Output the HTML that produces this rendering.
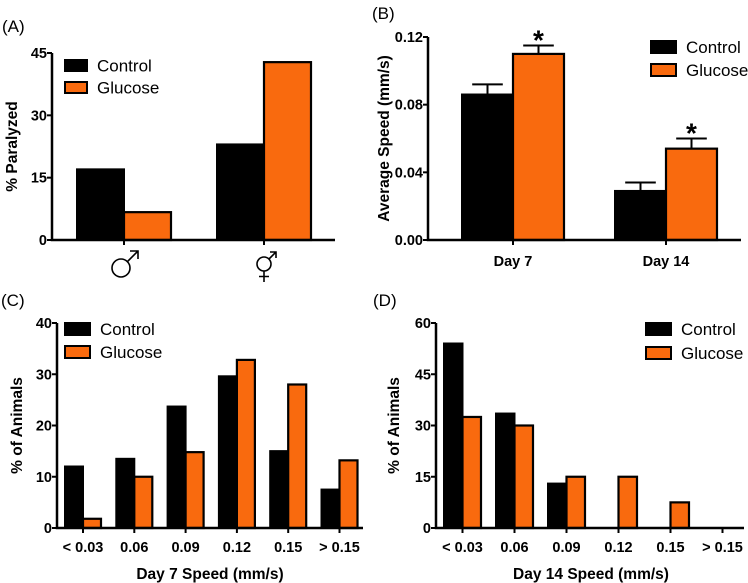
<!DOCTYPE html>
<html><head><meta charset="utf-8"><style>
html,body{margin:0;padding:0;background:#fff;}
svg{display:block;font-family:"Liberation Sans",Arial,sans-serif;}
.t{font-weight:bold;font-size:14.5px;}
.lg{font-size:17px;}
.ttl{font-weight:bold;font-size:15.5px;}
.pl{font-size:17px;}
</style></head><body>
<svg id="fig" width="748" height="583" viewBox="0 0 748 583"></svg>
<script>
const NS="http://www.w3.org/2000/svg";
const svg=document.getElementById('fig');
const ORANGE="#f96a0e";

// Panel A data
const aCategories=["male","hermaphrodite"];
const aControl=[17,23];
const aGlucose=[6.7,42.8];
const aTicks=[0,15,30,45];
// Panel B data
const bCategories=["Day 7","Day 14"];
const bControl=[0.086,0.029];
const bGlucose=[0.110,0.054];
const bControlErr=[0.006,0.005];
const bGlucoseErr=[0.005,0.006];
const bTicks=["0.00","0.04","0.08","0.12"];
// Panel C data
const cCategories=["< 0.03","0.06","0.09","0.12","0.15","> 0.15"];
const cControl=[12,13.5,23.7,29.6,15,7.5];
const cGlucose=[1.8,10,14.8,32.8,28,13.2];
const cTicks=[0,10,20,30,40];
// Panel D data
const dCategories=["< 0.03","0.06","0.09","0.12","0.15","> 0.15"];
const dControl=[54,33.5,13,0,0,0];
const dGlucose=[32.5,30,15,15,7.5,0];
const dTicks=[0,15,30,45,60];

function el(tag,attrs,parent){const e=document.createElementNS(NS,tag);for(const k in attrs)e.setAttribute(k,attrs[k]);(parent||svg).appendChild(e);return e;}
function txt(s,attrs,parent){const e=el('text',attrs,parent);e.textContent=s;return e;}

function symbol(kind,cx,g){
  const s=el('g',{fill:'none',stroke:'#000','stroke-width':1.6},g);
  
  
  if(kind==='male'){
    el('circle',{cx:cx-3,cy:268,r:9},s);
    el('path',{d:`M${cx+3.5},${261.5}L${cx+14},${251}M${cx+6},${251}H${cx+14}V${259}`},s);
  }else{
    el('circle',{cx:cx,cy:264,r:7},s);
    el('path',{d:`M${cx+5},${259}L${cx+12},${252}M${cx+6},${252}H${cx+12}V${258}M${cx},${271}V${282}M${cx-5},${276.5}H${cx+5}`},s);
  }
}

function panel(o){
  const g=el('g',{});
  
  
  const ymax=o.ymax;
  const Y=v=>o.y0-(v/ymax)*(o.y0-o.ytop);
  const lab=txt(o.label,{x:o.labX,y:o.labY,class:'pl'},g);
  
  
  o.cats.forEach((c,i)=>{
    const gx=o.gx0+i*o.gsp;
    const hc=o.y0-Y(o.ctrl[i]), hg=o.y0-Y(o.glu[i]);
    if(o.ctrl[i]>0){
      if(o.cerr){const ey=Y(o.ctrl[i]+o.cerr[i]);const cx=gx+o.bw/2;
        const e=el('path',{d:`M${cx},${Y(o.ctrl[i])}V${ey}M${cx-o.bw*0.3},${ey}H${cx+o.bw*0.3}`,stroke:'#000','stroke-width':2,fill:'none'},g);
        
        }
      const r=el('rect',{x:gx,y:Y(o.ctrl[i]),width:o.bw,height:hc,fill:'#000',stroke:'#000','stroke-width':2},g);
      
      
    }
    if(o.glu[i]>0){
      if(o.gerr){const ey=Y(o.glu[i]+o.gerr[i]);const cx=gx+o.bw*1.5;
        const e=el('path',{d:`M${cx},${Y(o.glu[i])}V${ey}M${cx-o.bw*0.3},${ey}H${cx+o.bw*0.3}`,stroke:'#000','stroke-width':2,fill:'none'},g);
        
        
        const s=txt('*',{x:cx,y:ey+4,'text-anchor':'middle','font-size':28,'font-weight':'bold'},g);
        
        }
      const r=el('rect',{x:gx+o.bw,y:Y(o.glu[i]),width:o.bw,height:hg,fill:ORANGE,stroke:'#000','stroke-width':2.2},g);
      
      
    }
    const tx=gx+o.bw;
    el('line',{x1:tx,y1:o.y0,x2:tx,y2:o.y0+5,stroke:'#000','stroke-width':2},g);
    if(o.symbols){ symbol(c,tx,g); }
    else{
      const t=txt(c,{x:tx,y:o.catY,'text-anchor':'middle',class:'t'},g);
      
      
    }
  });
  const ax=el('path',{d:`M${o.x0},${o.ytop}V${o.y0}H${o.xend}`,stroke:'#000','stroke-width':2.5,fill:'none'},g);
  
  
  o.ticks.forEach(tk=>{
    const v=parseFloat(tk);const y=Y(v);
    el('line',{x1:o.x0-5,y1:y,x2:o.x0,y2:y,stroke:'#000','stroke-width':2},g);
    const t=txt(String(tk),{x:o.x0-5,y:y+5,'text-anchor':'end',class:'t'},g);
    
    
  });
  const yt=txt(o.ytitle,{x:0,y:0,'text-anchor':'middle',class:'ttl',transform:`translate(${o.ytX},${(o.ytop+o.y0)/2}) rotate(-90)`},g);
  
  
  if(o.xtitle){const xt=txt(o.xtitle,{x:o.xtX,y:o.xtY,'text-anchor':'middle',class:'ttl'},g);
    
    }
  [['Control','#000'],['Glucose',ORANGE]].forEach((L,i)=>{
    const y=o.lgY+i*o.lgSp;
    const r=el('rect',{x:o.lgX,y:y,width:o.lgW,height:o.lgH,fill:L[1],stroke:'#000','stroke-width':2},g);
    
    
    const t=txt(L[0],{x:o.lgX+o.lgW+10,y:y+o.lgH/2+6,class:'lg'},g);
    
    
  });
}

panel({name:'panel-a',label:'(A)',labX:2,labY:32,x0:52,y0:240,ytop:53,xend:335,ymax:45,ticks:aTicks,
  cats:aCategories,ctrl:aControl,glu:aGlucose,gx0:77,gsp:140,bw:47,symbols:true,
  ytitle:'% Paralyzed',ytX:17,lgX:65,lgY:60,lgSp:22,lgW:22,lgH:11});
panel({name:'panel-b',label:'(B)',labX:372,labY:19,x0:428,y0:240,ytop:37,xend:741,ymax:0.12,ticks:bTicks,
  cats:bCategories,ctrl:bControl,glu:bGlucose,cerr:bControlErr,gerr:bGlucoseErr,gx0:462,gsp:153,bw:51,catY:266,
  ytitle:'Average Speed (mm/s)',ytX:389,lgX:651,lgY:41,lgSp:23,lgW:25,lgH:12});
panel({name:'panel-c',label:'(C)',labX:1,labY:306,x0:57,y0:528,ytop:323,xend:363,ymax:40,ticks:cTicks,
  cats:cCategories,ctrl:cControl,glu:cGlucose,gx0:65,gsp:51.3,bw:18,catY:552,
  ytitle:'% of Animals',ytX:22,xtitle:'Day 7 Speed (mm/s)',xtX:210,xtY:579,lgX:65,lgY:323,lgSp:23,lgW:25,lgH:12});
panel({name:'panel-d',label:'(D)',labX:373,labY:306,x0:436,y0:528,ytop:323,xend:744,ymax:60,ticks:dTicks,
  cats:dCategories,ctrl:dControl,glu:dGlucose,gx0:444,gsp:52,bw:18.5,catY:552,
  ytitle:'% of Animals',ytX:399,xtitle:'Day 14 Speed (mm/s)',xtX:591,xtY:579,lgX:646,lgY:323,lgSp:24,lgW:25,lgH:12});
</script>
</body></html>
